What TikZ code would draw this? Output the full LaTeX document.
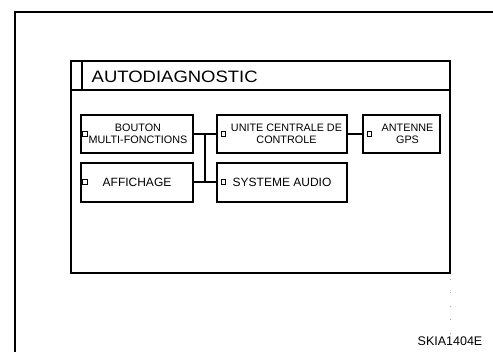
\documentclass[tikz,border=0pt]{standalone}
\usepackage{fontspec}
\setmainfont{Liberation Sans}
\newfontfamily\titlefont[FakeStretch=1.12]{Liberation Sans}
\begin{document}
\begin{tikzpicture}[x=1pt,y=-1pt,
  unitbox/.style={draw=black,line width=1.2pt,inner sep=0pt,align=center,font=\fontsize{10.8}{12}\selectfont},
  bigtxt/.style={font=\fontsize{12}{13}\selectfont},
  pin/.style={draw=black,line width=0.8pt,fill=white,minimum size=4.5pt,inner sep=0pt},
  link/.style={line width=1.5pt}]
\useasboundingbox (0,0) rectangle (493,352);
% outer frame
\draw[line width=2.6pt] (15,360) -- (15,12) -- (500,12);
% screen box
\draw[line width=1.1pt,fill=white] (71,61) rectangle (450,273);
\draw[line width=1.9pt] (71,273) -- (450,273) -- (450,61);
\draw[line width=1.1pt] (71,90) -- (450,90);
\draw[line width=1.1pt] (82,61) -- (82,90);
\node[anchor=base west,inner sep=0pt,font=\titlefont\fontsize{16.5}{18}\selectfont] (title) at (91.5,82.5) {AUTODIAGNOSTIC};
% unit boxes
\node[unitbox,minimum width=112pt,minimum height=38pt] (bouton) at (137,134) {\hspace*{2pt}BOUTON\\\hspace*{2pt}MULTI-FONCTIONS};
\node[unitbox,bigtxt,minimum width=112pt,minimum height=39pt] (aff) at (137,182.5) {AFFICHAGE};
\node[unitbox,minimum width=130pt,minimum height=38pt] (ucc) at (282,134) {\hspace*{9pt}UNITE CENTRALE DE\\\hspace*{9pt}CONTROLE};
\node[unitbox,bigtxt,minimum width=130pt,minimum height=39pt] (audio) at (282,182.5) {SYSTEME AUDIO};
\node[unitbox,minimum width=77pt,minimum height=38pt] (gps) at (401.5,134) {\hspace*{12pt}ANTENNE\\\hspace*{12pt}GPS};
% pins
\node[pin] (pb) at (85,134) {};
\node[pin] (pa) at (85,182) {};
\node[pin] (pu) at (223.5,134) {};
\node[pin] (ps) at (223.5,182) {};
\node[pin] (pg) at (369.5,134) {};
% connectors
\coordinate (jt) at (205,134);
\coordinate (jb) at (205,182);
\draw[link] (bouton.east |- jt) -- (ucc.west |- jt);
\draw[link] (aff.east |- jb) -- (audio.west |- jb);
\draw[link] (jt) -- (jb);
\draw[link] (ucc.east) -- (gps.west);
% dotted trail
\draw[gray!70,line width=0.5pt,dash pattern=on 0.8pt off 12.6pt] (450,279) -- (450,336);
\node[anchor=base east,inner sep=0pt,font=\fontsize{12.5}{14}\selectfont] (ref) at (482.5,345.5) {SKIA1404E};
\end{tikzpicture}
\end{document}
